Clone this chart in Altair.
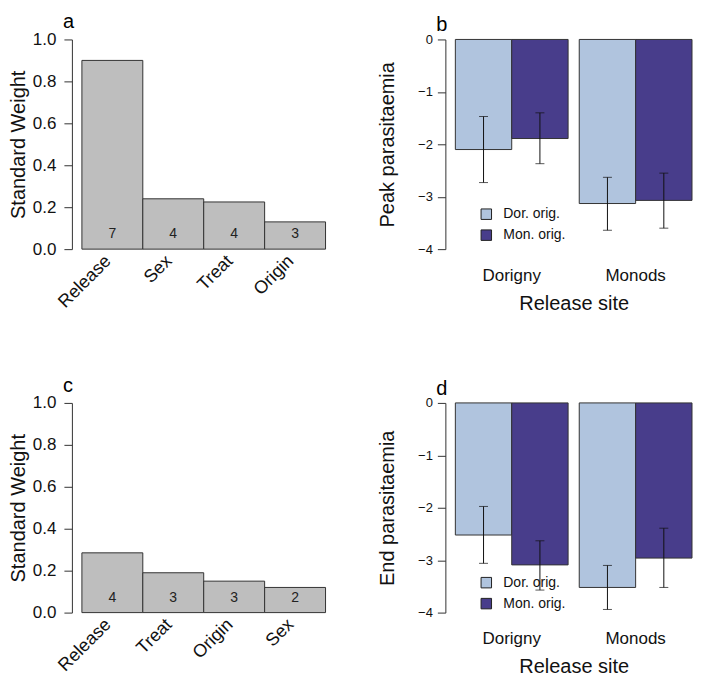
import altair as alt
import pandas as pd

# ---- data ----
vars_a = ["Release", "Sex", "Treat", "Origin"]
weight_a = [0.90, 0.24, 0.225, 0.13]
count_a = [7, 4, 4, 3]

vars_c = ["Release", "Treat", "Origin", "Sex"]
weight_c = [0.285, 0.19, 0.15, 0.12]
count_c = [4, 3, 3, 2]

sites = ["Dorigny", "Dorigny", "Monods", "Monods"]
origins = ["Dor. orig.", "Mon. orig.", "Dor. orig.", "Mon. orig."]
origin_levels = ["Dor. orig.", "Mon. orig."]
origin_colors = ["#B0C4DE", "#483D8B"]

peak_mean = [-2.10, -1.89, -3.13, -3.07]
peak_hi = [-1.47, -1.40, -2.63, -2.55]
peak_lo = [-2.73, -2.37, -3.64, -3.60]

end_mean = [-2.52, -3.09, -3.52, -2.96]
end_hi = [-1.975, -2.63, -3.10, -2.39]
end_lo = [-3.06, -3.57, -3.94, -3.52]

FONT = "Liberation Sans"
W_LEFT, W_RIGHT, H = 244, 237, 210


def weight_panel(vars_, weights, counts, letter):
    df = pd.DataFrame({"var": vars_, "w": weights, "n": counts})
    base = alt.Chart(df)
    x = alt.X(
        "var:N", sort=vars_,
        scale=alt.Scale(paddingInner=0, paddingOuter=0),
        axis=alt.Axis(title=None, labelAngle=-45, labelAlign="right",
                      labelBaseline="middle", labelFontSize=18, ticks=False,
                      domain=False, labelPadding=9, labelOffset=-4),
    )
    bars = base.mark_bar(fill="#BEBEBE", stroke="#333333", strokeWidth=1).encode(
        x=x,
        y=alt.Y("w:Q", scale=alt.Scale(domain=[0, 1], nice=False),
                axis=alt.Axis(values=[0, 0.2, 0.4, 0.6, 0.8, 1.0], format=".1f",
                              title="Standard Weight", titleFontSize=20,
                              labelFontSize=17, offset=10, tickSize=8,
                              labelPadding=8, titlePadding=4)),
    )
    txt = base.mark_text(baseline="alphabetic", dy=-11, fontSize=14, color="#222222", font=FONT).encode(
        x=alt.X("var:N", sort=vars_),
        y=alt.datum(0),
        text="n:Q",
    )
    return alt.layer(bars, txt).properties(
        width=W_LEFT, height=H,
        title=alt.TitleParams(letter, anchor="start", frame="group", dx=-19,
                              fontSize=20, fontWeight="normal", font=FONT, offset=-2),
    )


def para_panel(mean, lo, hi, ytitle, letter, legend_y):
    df = pd.DataFrame({"site": sites, "origin": origins, "mean": mean, "lo": lo, "hi": hi})
    base = alt.Chart(df)
    x = alt.X("site:N", scale=alt.Scale(paddingInner=0.09, paddingOuter=0),
              axis=alt.Axis(title="Release site", labelAngle=0, ticks=False, domain=False,
                            labelFontSize=17, labelPadding=18, titleFontSize=20,
                            titlePadding=10))
    xo = alt.XOffset("origin:N", sort=origin_levels,
                     scale=alt.Scale(paddingInner=0, paddingOuter=0))
    yscale = alt.Scale(domain=[-4, 0], nice=False)
    bars = base.mark_bar(stroke="#333333", strokeWidth=1, opacity=1).encode(
        x=x, xOffset=xo,
        y=alt.Y("mean:Q", scale=yscale,
                axis=alt.Axis(values=[0, -1, -2, -3, -4], format="d", title=ytitle,
                              titleFontSize=20, labelFontSize=13, offset=10,
                              tickSize=8, labelPadding=5, titlePadding=20)),
        color=alt.Color("origin:N",
                        scale=alt.Scale(domain=origin_levels, range=origin_colors),
                        legend=alt.Legend(orient="none", legendX=24, legendY=legend_y,
                                          title=None, symbolType="square", symbolSize=110,
                                          symbolStrokeColor="#222222", symbolStrokeWidth=1,
                                          labelFontSize=14, labelFont=FONT, rowPadding=5,
                                          labelOffset=10, symbolOpacity=1,
                                          labelColor="#111111")),
    )
    rules = base.mark_rule(color="#111111", strokeWidth=1).encode(
        x="site:N", xOffset=xo, y=alt.Y("lo:Q", scale=yscale), y2="hi:Q")
    cap_lo = base.mark_tick(color="#111111", size=9, thickness=1).encode(
        x="site:N", xOffset=xo, y=alt.Y("lo:Q", scale=yscale))
    cap_hi = base.mark_tick(color="#111111", size=9, thickness=1).encode(
        x="site:N", xOffset=xo, y=alt.Y("hi:Q", scale=yscale))
    return alt.layer(bars, rules, cap_lo, cap_hi).properties(
        width=W_RIGHT, height=H,
        title=alt.TitleParams(letter, anchor="start", frame="group", dx=-19,
                              fontSize=20, fontWeight="normal", font=FONT, offset=-2),
    )


pa = weight_panel(vars_a, weight_a, count_a, "a")
pb = para_panel(peak_mean, peak_lo, peak_hi, "Peak parasitaemia", "b", 168)
pc = weight_panel(vars_c, weight_c, count_c, "c")
pd_ = para_panel(end_mean, end_lo, end_hi, "End parasitaemia", "d", 173)

chart = alt.concat(pa, pb, pc, pd_, columns=2, spacing={"row": 154, "column": 130},
                   bounds="flush").resolve_scale(
    x="independent", y="independent", color="independent"
).resolve_legend(color="independent").properties(
    padding={"left": 0, "top": 4, "right": 0, "bottom": 0}
).configure(
    font=FONT
).configure_view(
    stroke=None
).configure_axis(
    grid=False, labelFont=FONT, titleFont=FONT, titleFontWeight="normal",
    domainColor="#333333", tickColor="#333333", labelColor="#111111",
    titleColor="#111111"
)

chart.save("out.html", embed_options={"renderer": "svg", "actions": False})
